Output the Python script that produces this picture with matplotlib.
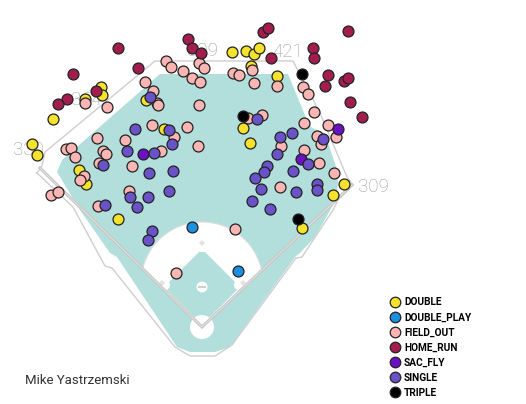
import numpy as np
import matplotlib
matplotlib.use("Agg")
import matplotlib.pyplot as plt
from matplotlib.patches import Polygon, Circle
from matplotlib.lines import Line2D

# hit coordinates (chart units, y grows downward)
double_x = [101, 102, 85, 53, 32, 37, 146, 164, 232, 246, 254, 259, 251, 243, 250, 79, 86, 118, 277, 344, 333, 302]
double_y = [87, 95, 99, 119, 144, 155, 100, 129, 52, 51, 54, 48, 66, 128, 143, 170, 184, 219, 76, 184, 195, 228]

dp_x = [192, 238]
dp_y = [227, 271]

out_x = [166, 171, 183, 199, 204, 192, 200, 145, 153, 157, 158, 107, 85, 199, 233, 239, 252, 254,
         187, 198, 152, 174, 125, 97, 161, 132, 103, 106, 99, 66, 71, 75, 84, 80, 51, 58, 129,
         248, 262, 98, 176, 235, 277, 303, 308, 314, 304, 328, 336, 317, 321, 281, 304, 319, 280, 334]
out_y = [61, 67, 71, 63, 68, 78, 82, 82, 91, 103, 105, 107, 103, 105, 73, 75, 70, 83,
         127, 146, 125, 137, 140, 138, 151, 166, 151, 154, 163, 149, 148, 157, 176, 180, 195, 192, 191,
         118, 115, 206, 273, 229, 86, 87, 94, 112, 123, 125, 137, 136, 144, 146, 150, 163, 187, 173]

hr_x = [118, 188, 192, 201, 138, 73, 96, 67, 58, 263, 268, 348, 313, 314, 271, 328, 325, 344, 348, 350, 362]
hr_y = [48, 39, 48, 53, 68, 74, 91, 99, 104, 32, 28, 31, 48, 58, 58, 75, 86, 81, 78, 102, 117]

sac_x = [143, 338, 301]
sac_y = [154, 129, 159]

single_x = [135, 169, 172, 154, 127, 103, 149, 173, 169, 148, 130, 150, 257, 105, 137, 152, 148,
            280, 292, 277, 323, 308, 267, 264, 255, 293, 261, 296, 317, 317, 252, 270]
single_y = [129, 130, 144, 153, 151, 165, 173, 171, 191, 197, 197, 97, 119, 205, 207, 231, 240,
            137, 133, 154, 139, 164, 166, 172, 178, 171, 189, 192, 184, 190, 201, 209]

triple_x = [243, 302, 298]
triple_y = [116, 74, 219]

events = ["DOUBLE", "DOUBLE_PLAY", "FIELD_OUT", "HOME_RUN", "SAC_FLY", "SINGLE", "TRIPLE"]
colors = ["#f5e22c", "#1b8fe0", "#fbb5b3", "#a21d4e", "#6c10c6", "#6a52c9", "#000000"]
xs = [double_x, dp_x, out_x, hr_x, sac_x, single_x, triple_x]
ys = [double_y, dp_y, out_y, hr_y, sac_y, single_y, triple_y]

dist_labels = ["330", "364", "399", "421", "309"]
dist_pos = [(28, 150), (86, 100), (203, 51), (288, 52), (373, 187)]

TEAL = "#b2dfdb"
LINE = "#cfcfcf"

fig = plt.figure(figsize=(5.26, 4.04), dpi=100)
ax = fig.add_axes([0, 0, 1, 1])
ax.set_xlim(0, 526)
ax.set_ylim(404, 0)
ax.axis("off")

# field grass
field = [(57, 172), (62, 160), (160, 74), (288, 74), (307, 120), (312, 128), (325, 133), (337, 170),
         (338, 183), (336, 200), (315, 237), (300, 253), (296, 256), (230, 347), (215, 352),
         (190, 352), (177, 347), (117, 257), (110, 253), (80, 210)]
ax.add_patch(Polygon(field, closed=True, fc=TEAL, ec="none", zorder=1))

# wall / stands outline
wall = [(37, 173), (42, 166), (45, 152), (155, 61), (293, 61), (320, 113), (347, 177), (353, 185),
        (338, 200), (333, 210), (302, 257), (296, 258), (232, 345), (215, 356), (190, 356),
        (175, 347), (112, 268), (105, 266), (73, 207), (37, 173)]
wx, wy = zip(*wall)
ax.plot(wx, wy, color=LINE, lw=1, zorder=2)

# infield dirt
cx, cy, r = 202, 283, 61
t = np.radians(np.linspace(12, 166, 60))
dirt = list(zip(cx + r * np.cos(t), cy - r * np.sin(t))) + [(202, 327)]
ax.add_patch(Polygon(dirt, closed=True, fc="white", ec="#dddddd", lw=0.8, zorder=2))

# infield grass
ax.add_patch(Polygon([(202, 249), (164, 287), (202, 325), (240, 287)], closed=True,
                     fc=TEAL, ec="none", zorder=3))
for (bx, by, br) in [(202, 244, 8), (165, 285, 5), (239, 285, 5)]:
    ax.add_patch(Circle((bx, by), br, fc="white", ec="none", zorder=4))
ax.add_patch(Circle((202, 327), 12, fc="white", ec="none", zorder=4))
ax.add_patch(Circle((202, 287), 5.5, fc="white", ec="none", zorder=4))
ax.plot([199, 205], [287, 287], color="#d0d0d0", lw=1.5, zorder=5)

# bases
for (bx, by) in [(202, 243), (243, 283), (162, 283)]:
    ax.add_patch(Polygon([(bx, by - 3), (bx + 3, by), (bx, by + 3), (bx - 3, by)],
                         fc="#e2e2e2", ec="none", zorder=5))

# foul lines
ax.plot([40, 202, 352], [168, 327, 185], color="#c6c6c6", lw=2.2, zorder=5,
        solid_joinstyle="miter")
ax.plot([40, 202, 352], [168, 327, 185], color="#e6e6e6", lw=0.6, zorder=5)

for lab, (px, py) in zip(dist_labels, dist_pos):
    ax.text(px, py, lab, ha="center", va="center", fontsize=13.5, color="#9e9e9e",
            family="Roboto", fontweight="light", zorder=5)

for ev, c, x, y in zip(events, colors, xs, ys):
    ax.scatter(x, y, s=62, c=c, edgecolors="#222222", linewidths=0.9, zorder=6)

handles = [Line2D([], [], ls="none", marker="o", markersize=7.6, markerfacecolor=c,
                  markeredgecolor="#222222", markeredgewidth=0.9) for c in colors]
fig.legend(handles, events, loc="upper left", bbox_to_anchor=(0.741, 0.264), frameon=False,
           handlelength=1.0, handletextpad=0.4, labelspacing=0.5, borderpad=0, borderaxespad=0,
           prop={"family": "Roboto", "weight": "bold", "size": 7.3})

ax.text(25, 380, "Mike Yastrzemski", fontsize=9.5, color="#333333", family="Roboto",
        ha="left", va="center")

fig.savefig("out.png", dpi=100)
